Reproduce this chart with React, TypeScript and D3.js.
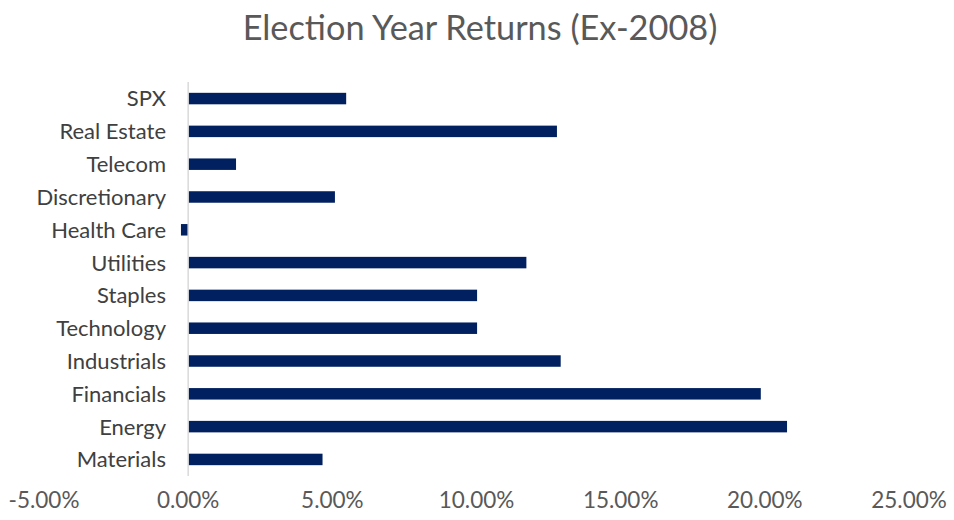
import React from 'react';
import * as d3 from 'd3';

const categories = ['SPX', 'Real Estate', 'Telecom', 'Discretionary', 'Health Care', 'Utilities', 'Staples', 'Technology', 'Industrials', 'Financials', 'Energy', 'Materials'];
const returns = [5.48, 12.79, 1.66, 5.09, -0.25, 11.73, 10.02, 10.02, 12.92, 19.86, 20.77, 4.66];
const ticks = [-5, 0, 5, 10, 15, 20, 25];

const W = 954;
const H = 520;
const font = 'Lato, "Open Sans", sans-serif';

// excel style: hyphen for minus, two decimals
const fmtPct = (t: number) => (t < 0 ? '-' : '') + d3.format('.2f')(Math.abs(t)) + '%';

const App = () => {
  const x = d3.scaleLinear().domain([-5, 25]).range([44, 909]);
  const y = d3.scaleBand<string>().domain(categories).range([82, 476]).paddingInner(0.65).paddingOuter(0.33);

  return (
    <svg width={W} height={H} style={{ position: 'absolute', left: 0, top: 0, background: '#fff' }}>
      <text x={480} y={40} textAnchor="middle" fontFamily={font} fontSize={34.3} fill="#595959">
        Election Year Returns (Ex-2008)
      </text>

      {categories.map((c, i) => {
        const v = returns[i];
        return (
          <rect
            key={c}
            x={Math.min(x(0), x(v))}
            y={y(c)}
            width={Math.abs(x(v) - x(0))}
            height={y.bandwidth()}
            fill="#002060"
          />
        );
      })}

      <line x1={x(0)} x2={x(0)} y1={82} y2={476} stroke="#d9d9d9" strokeWidth={1.5} />

      {categories.map((c) => (
        <text
          key={c}
          x={166}
          y={(y(c) || 0) + y.bandwidth() / 2}
          dy="0.36em"
          textAnchor="end"
          fontFamily={font}
          fontSize={22}
          fill="#404040"
        >
          {c}
        </text>
      ))}

      {ticks.map((t) => (
        <text key={t} x={x(t)} y={508} textAnchor="middle" fontFamily={font} fontSize={22.5} fill="#595959">
          {fmtPct(t)}
        </text>
      ))}
    </svg>
  );
};

export default App;
